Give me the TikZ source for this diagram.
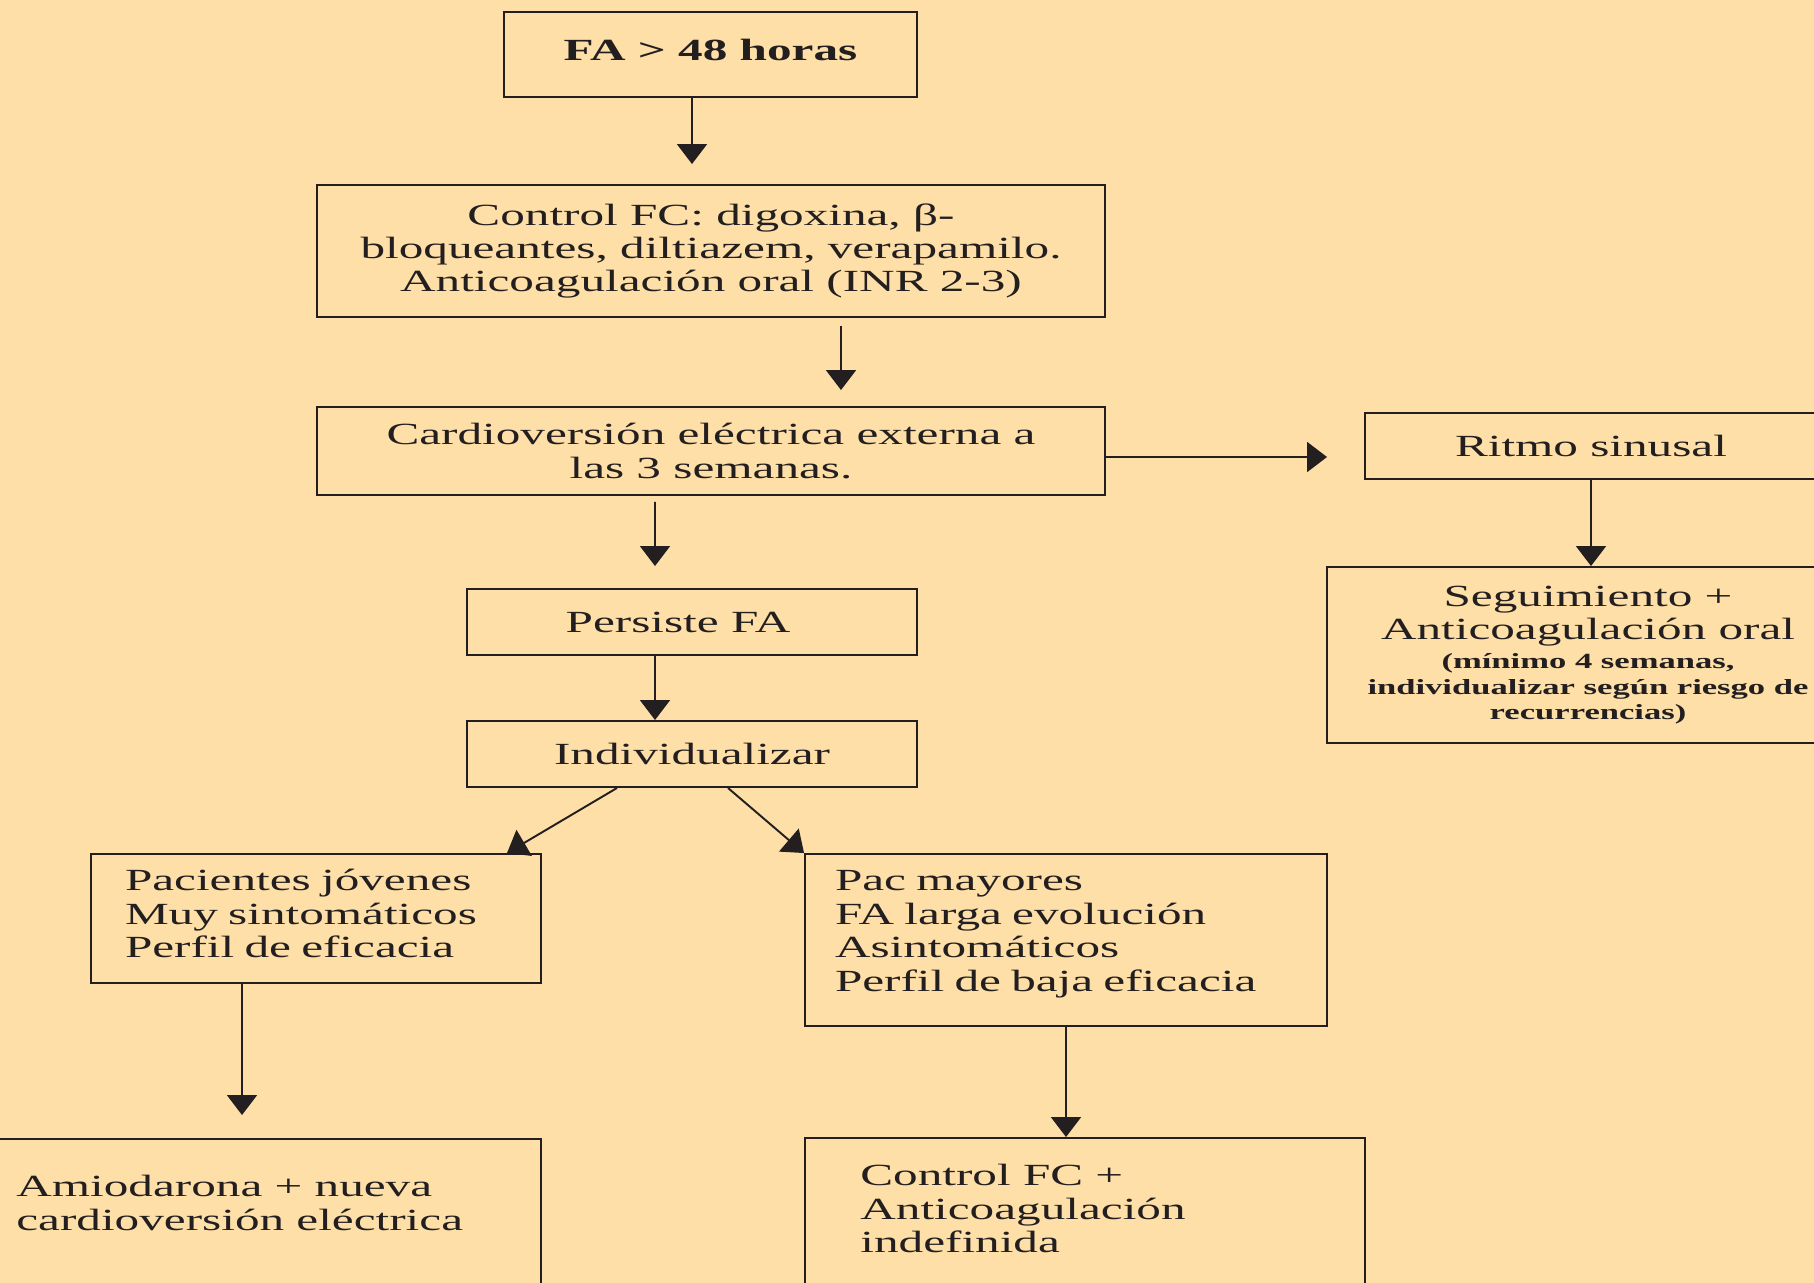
\documentclass[tikz,border=0pt]{standalone}
\usepackage{fontspec}
\setmainfont{Liberation Serif}[FakeStretch=1.6]
\usetikzlibrary{arrows.meta}
\definecolor{peach}{RGB}{253,223,167}
\definecolor{ink}{RGB}{35,31,32}
\newcommand\bigtxt{\fontsize{17.5}{19}\selectfont}
\newcommand\smalltxt{\fontsize{12.3}{13.7}\selectfont\bfseries}
\tikzset{
    box/.style={draw=ink, line width=1.1pt, inner sep=0pt, align=center,
        text=ink, font=\bigtxt},
    txt/.style={inner sep=0pt, text=ink, font=\bigtxt},
    arr/.style={-{Triangle[width=0.6cm,length=0.4cm]}, line width=1.1pt, draw=ink}
}
\begin{document}
\begin{tikzpicture}
    \fill[peach] (0,0) rectangle (36.28,-25.66);
    \useasboundingbox (0,0) rectangle (36.28,-25.66);

    \node[box, minimum width=8.26cm, minimum height=1.7cm] (fa) at (14.21,-1.09)
        {\bfseries FA > 48 horas\rule[-0.2cm]{0pt}{0.2cm}};
    \node[box, minimum width=15.76cm, minimum height=2.64cm] (ctrl) at (14.22,-5.02)
        {Control FC: digoxina, β-\\bloqueantes, diltiazem, verapamilo.\\Anticoagulación oral (INR 2-3)};
    \node[box, minimum width=15.76cm, minimum height=1.76cm] (cardio) at (14.22,-9.02)
        {Cardioversión eléctrica externa a\\las 3 semanas.};
    \node[box, minimum width=9.04cm, minimum height=1.32cm] (ritmo) at (31.82,-8.92)
        {Ritmo sinusal};
    \node[box, minimum width=10.44cm, minimum height=3.52cm] (segui) at (31.76,-13.10)
        {Seguimiento +\\Anticoagulación oral\\[-0.08cm]
        \smalltxt (mínimo 4 semanas,\\[-0.16cm]\smalltxt individualizar según riesgo de\\[-0.16cm]\smalltxt recurrencias)};
    \node[box, minimum width=9cm, minimum height=1.32cm] (persiste) at (13.84,-12.44)
        {Persiste FA\hspace*{0.56cm}};
    \node[box, minimum width=9cm, minimum height=1.32cm] (indiv) at (13.84,-15.08)
        {Individualizar};
    \node[box, align=left, text width=7.64cm, inner xsep=0.68cm, minimum height=2.58cm]
        (jovenes) at (6.32,-18.37)
        {Pacientes jóvenes\\Muy sintomáticos\\Perfil de eficacia\rule[-0.2cm]{0pt}{0.2cm}};
    \node[box, align=left, text width=9.24cm, inner xsep=0.6cm, minimum height=3.44cm]
        (mayores) at (21.32,-18.80)
        {Pac mayores\\FA larga evolución\\Asintomáticos\\Perfil de baja eficacia\rule[-0.36cm]{0pt}{0.36cm}};

    \node[box, minimum width=11.22cm, minimum height=3.22cm] (amio) at (5.21,-24.39) {};
    \node[txt, anchor=north west, align=left] (amiotxt) at ([xshift=0.74cm,yshift=-0.74cm]amio.north west)
        {Amiodarona + nueva\\cardioversión eléctrica};
    \node[box, minimum width=11.2cm, minimum height=3.24cm] (ctrlfc) at (21.7,-24.38) {};
    \node[txt, anchor=north west, align=left] (ctrlfctxt) at ([xshift=1.12cm,yshift=-0.54cm]ctrlfc.north west)
        {Control FC +\\Anticoagulación\\indefinida};

    % arrows
    \draw[arr] ([xshift=-0.37cm]fa.south) -- ([xshift=-0.38cm,yshift=0.4cm]ctrl.north);
    \draw[arr] ([xshift=2.6cm,yshift=-0.16cm]ctrl.south) -- ([xshift=2.6cm,yshift=0.32cm]cardio.north);
    \draw[arr] ([yshift=-0.12cm]cardio.east) -- ([xshift=-0.74cm,yshift=-0.22cm]ritmo.west);
    \draw[arr] (ritmo.south) -- (ritmo.south |- segui.north);
    \draw[arr] ([xshift=-1.12cm,yshift=-0.12cm]cardio.south) -- ([xshift=-0.74cm,yshift=0.44cm]persiste.north);
    \draw[arr] ([xshift=-0.74cm]persiste.south) -- ([xshift=-0.74cm]indiv.north);
    \draw[arr] ([xshift=-1.5cm]indiv.south) -- ([xshift=3.82cm]jovenes.north);
    \draw[arr] ([xshift=0.72cm]indiv.south) -- (mayores.north west);
    \draw[arr] ([xshift=-1.48cm]jovenes.south) -- ([xshift=-0.37cm,yshift=0.46cm]amio.north);
    \draw[arr] (mayores.south) -- ([xshift=-0.38cm]ctrlfc.north);
\end{tikzpicture}
\end{document}
